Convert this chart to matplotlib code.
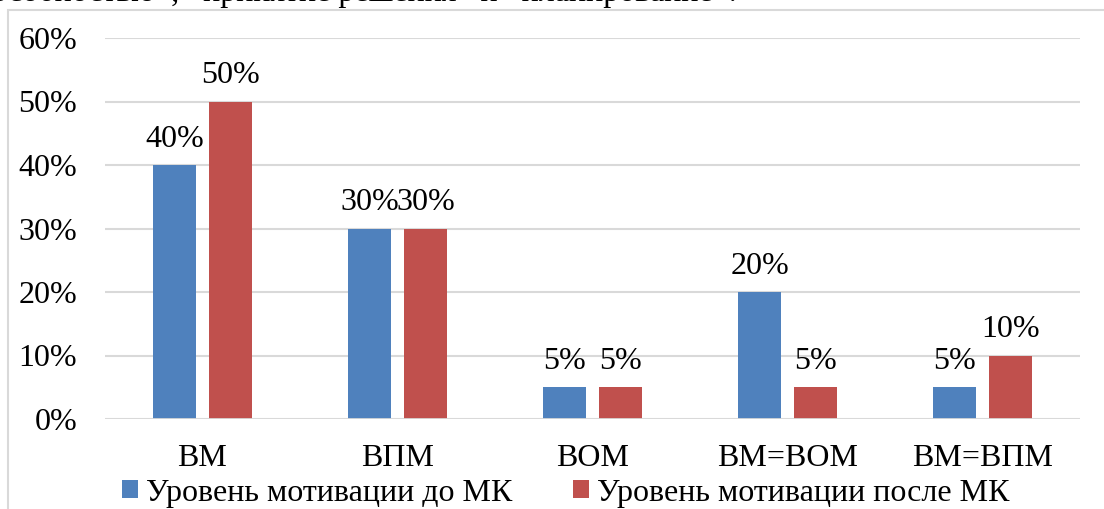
import matplotlib.pyplot as plt
from matplotlib.patches import Rectangle
import numpy as np

# Data
categories = ['ВМ', 'ВПМ', 'ВОМ', 'ВМ=ВОМ', 'ВМ=ВПМ']
before_mk = [40, 30, 5, 20, 5]
after_mk = [50, 30, 5, 5, 10]
series_names = ['Уровень мотивации до МК', 'Уровень мотивации после МК']

plt.rcParams['font.family'] = ['Liberation Serif', 'DejaVu Serif']

fig = plt.figure(figsize=(11.04, 5.09), dpi=100)
W, H = 1104, 509

# cut-off line of page text above the chart
fig.text(737 / W, 1 - 1 / H, 'способностью», «принятие решения» и «планирование».',
         ha='right', va='baseline', fontsize=23, color='black')

# chart border
fig.patches.append(Rectangle((8 / W, -0.1), 1.2, 1 - 10 / H + 0.1, transform=fig.transFigure,
                             fill=False, edgecolor='#d9d9d9', linewidth=1.5))

ax = fig.add_axes([105 / W, 1 - 419 / H, (1080 - 105) / W, (419 - 38) / H])

x = np.arange(len(categories))
bw = 0.22
off = 0.143
b1 = ax.bar(x - off, before_mk, bw, color='#4F81BD', label=series_names[0], zorder=3)
b2 = ax.bar(x + off, after_mk, bw, color='#C0504D', label=series_names[1], zorder=3)

for bars in (b1, b2):
    for b in bars:
        ax.annotate(f'{int(b.get_height())}%', (b.get_x() + b.get_width() / 2, b.get_height()),
                    xytext=(0, 8), textcoords='offset points', ha='center', va='bottom',
                    fontsize=23)

ax.set_xlim(-0.5, len(categories) - 0.5)
ax.set_ylim(0, 60)
ax.set_yticks(range(0, 61, 10))
ax.set_yticklabels([f'{v}%' for v in range(0, 61, 10)])
ax.set_xticks(x)
ax.set_xticklabels(categories)
ax.tick_params(axis='both', length=0, labelsize=23)
ax.tick_params(axis='y', pad=20)
ax.tick_params(axis='x', pad=18)
ax.grid(axis='y', color='#d9d9d9', linewidth=1.5, zorder=0)
for s in ax.spines.values():
    s.set_visible(False)
ax.axhline(0, color='#d9d9d9', linewidth=2, zorder=4)

fig.legend(loc='center', bbox_to_anchor=(566 / W, 1 - 493 / H), ncol=2, frameon=False,
           fontsize=23, handlelength=0.5, handleheight=0.5, handletextpad=0.25,
           columnspacing=1.9, borderaxespad=0, borderpad=0)

fig.savefig('out.png', dpi=100)
